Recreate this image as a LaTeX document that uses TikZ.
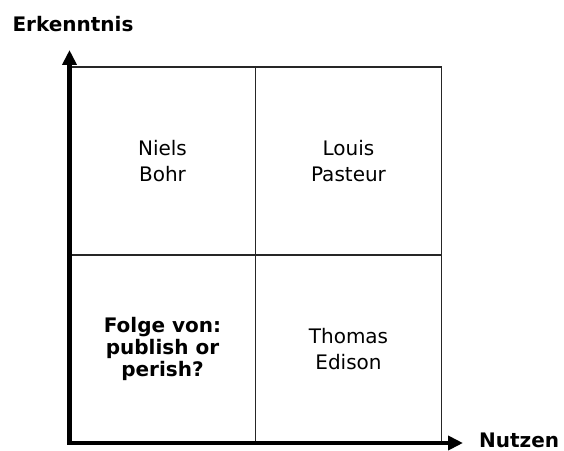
\documentclass[tikz,border=0pt]{standalone}
\usepackage{fontspec}
\setmainfont{DejaVu Sans}
\usetikzlibrary{arrows.meta,positioning}

\begin{document}
\begin{tikzpicture}[x=1pt,y=1pt]
\tikzstyle{cell} = [rectangle, draw=black!85, line width=1.4pt,
minimum width=186pt, minimum height=188pt, inner sep=0pt, outer sep=0pt,
align=center, font=\fontsize{20}{26}\selectfont]
\tikzstyle{cell_bold} = [cell, font=\fontsize{20}{22}\selectfont\bfseries]
\tikzstyle{axis} = [draw, line width=4.5pt, line join=miter,
{Triangle[length=15pt,width=14pt]}-{Triangle[length=15pt,width=14pt]}]
\tikzstyle{axislabel} = [font=\fontsize{20}{24}\selectfont\bfseries, inner sep=0pt]
\useasboundingbox (0,0) rectangle (564,450);
% upper row
\node [cell] (bohr) at (162.5,289) {Niels\\Bohr};
\node [cell, right=0pt of bohr] (pasteur) {Louis\\Pasteur};
% lower row
\node [cell_bold, below=0pt of bohr] (folge) {Folge von:\\publish or\\perish?};
\node [cell, right=0pt of folge] (edison) {Thomas\\Edison};
% axes
\coordinate (origin) at (folge.south west);
\coordinate (ytip) at (69.5,400);
\coordinate (xtip) at (463,7);
\path [axis] (ytip) -- (origin) -- (xtip);
\node [axislabel, anchor=base] (erkenntnis) at (73,418) {Erkenntnis};
\node [axislabel, right=16pt of xtip, yshift=3pt] (nutzen) {Nutzen};
\end{tikzpicture}
\end{document}
